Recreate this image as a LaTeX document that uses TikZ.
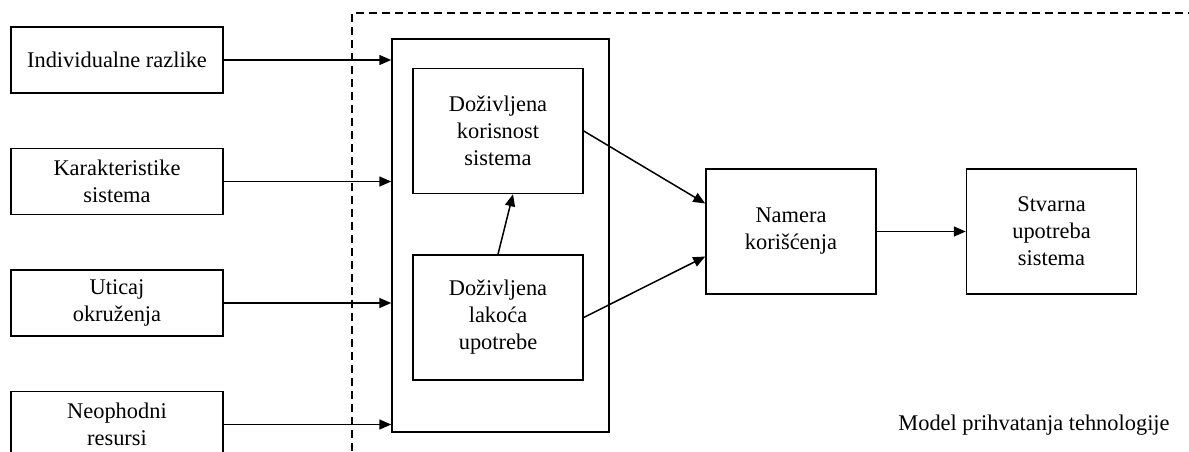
\documentclass[tikz,border=0pt]{standalone}
\usepackage{fontspec}
\setmainfont{Liberation Serif}
\usetikzlibrary{positioning,arrows.meta}

\begin{document}
\begin{tikzpicture}[
    x=1pt,y=1pt,
    node distance=54pt,
    box/.style={rectangle,draw,line width=1.5pt,minimum width=212pt,minimum height=66pt,align=center,font=\fontsize{22.4}{27}\selectfont},
    inbox/.style={box,minimum width=170pt,minimum height=125pt},
    arrow/.style={-{Triangle[length=12pt,width=10pt]},line width=1.5pt}
]
    \useasboundingbox (0,0) rectangle (1189,-451);

    % left column
    \node[box] (ind) at (117,-60) {Individualne razlike};
    \node[box,below=of ind] (kar) {Karakteristike\\sistema};
    \node[box,below=of kar] (uti) {Uticaj\\okruženja};
    \node[box,below=of uti] (neo) {Neophodni\\resursi};

    % model
    \node[draw,line width=1.5pt,minimum width=217pt,minimum height=393pt] (big) at (500.5,-235.5) {};
    \node[inbox] (kor) at (498,-131) {Doživljena\\korisnost\\sistema};
    \node[inbox,below=60pt of kor] (lak) {Doživljena\\lakoća\\upotrebe};
    \node[inbox] (nam) at (791,-231.5) {Namera\\korišćenja};
    \node[inbox,right=89pt of nam] (stv) {Stvarna\\upotreba\\sistema};
    \node[font=\fontsize{22.4}{27}\selectfont] (cap) at (1034,-425) {Model prihvatanja tehnologije};

    % dashed frame
    \coordinate (fa) at (352,-451);
    \coordinate (fb) at (352,-13);
    \coordinate (fc) at (1189,-13);
    \draw[line width=1.5pt,dash pattern=on 8pt off 5pt] (fa) -- (fb) -- (fc);

    \draw[arrow] (ind.east) -- (ind.east -| big.west);
    \draw[arrow] (kar.east) -- (kar.east -| big.west);
    \draw[arrow] (uti.east) -- (uti.east -| big.west);
    \draw[arrow] (neo.east) -- (neo.east -| big.west);
    \draw[arrow] (lak.north) -- ([xshift=15pt]kor.south);
    \draw[arrow] (kor.east) -- ([yshift=28pt]nam.west);
    \draw[arrow] (lak.east) -- ([yshift=-25pt]nam.west);
    \draw[arrow] (nam) -- (stv);
\end{tikzpicture}
\end{document}
